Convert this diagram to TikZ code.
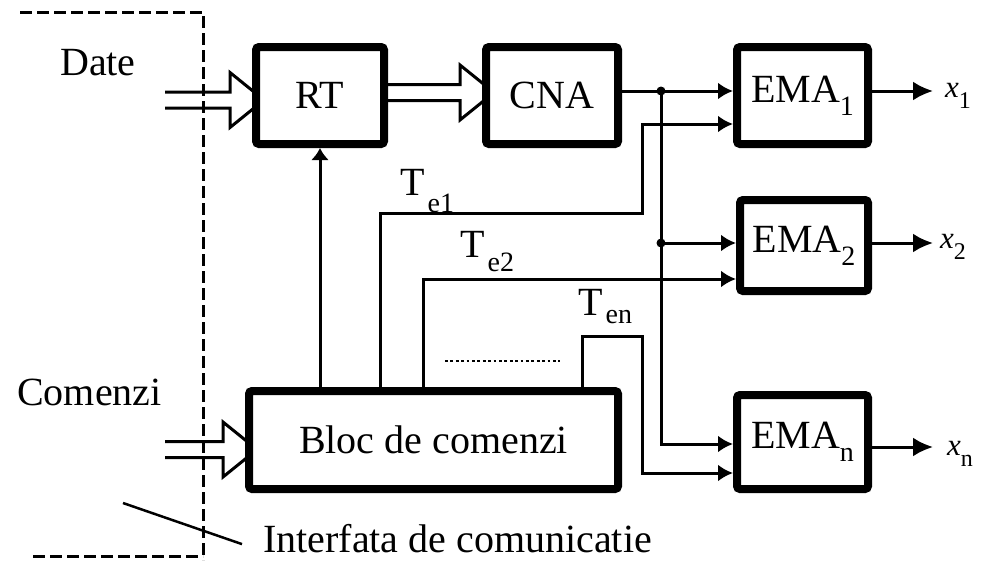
\documentclass[tikz,border=0pt]{standalone}
\usepackage{fontspec}
\setmainfont{Liberation Serif}
\usetikzlibrary{arrows.meta,calc,backgrounds}
\newcommand\sbs[1]{\raisebox{-13pt}{\fontsize{28}{28}\selectfont #1}}
\newcommand\tsb[2]{\hspace{3pt}\raisebox{#1}{\fontsize{28}{28}\selectfont #2}}
\newcommand\xsb[1]{\raisebox{-11pt}{\fontsize{24}{24}\selectfont #1}}
\newcommand\fatarr[2]{\draw[wire] ($(#1)+(0,-8)$) -- ($(#2|-#1)+(-22,-8)$) -- ($(#2|-#1)+(-22,-27.5)$) -- ($(#2|-#1)+(12,0)$) -- ($(#2|-#1)+(-22,27.5)$) -- ($(#2|-#1)+(-22,8)$) -- ($(#1)+(0,8)$);}
\begin{document}
\begin{tikzpicture}[x=1pt,y=-1pt,
  blk/.style={draw,line width=8pt,fill=white,rounded corners=3pt,inner sep=0pt,font=\fontsize{40}{44}\selectfont},
  wire/.style={line width=3pt},
  arr/.style={wire,-{Latex[length=15pt,width=17pt]}},
  outarr/.style={wire,-{Latex[length=20pt,width=19pt]}},
  lbl/.style={inner sep=0pt,font=\fontsize{40}{44}\selectfont},
  xlbl/.style={inner sep=0pt,anchor=base west,font=\fontsize{31}{31}\selectfont},
  dashbord/.style={line width=3pt,dash pattern=on 12pt off 5pt}]
\useasboundingbox (0,0) rectangle (991,560);
% blocks
\node[blk,minimum width=128pt,minimum height=97pt] (RT) at (320,95.5) {RT};
\node[blk,minimum width=132pt,minimum height=97pt] (CNA) at (552,95.5) {CNA};
\node[blk,minimum width=131pt,minimum height=97pt] (EMA1) at (802.5,95.5) {EMA\sbs{1}};
\node[blk,minimum width=128pt,minimum height=91pt] (EMA2) at (804,245.5) {EMA\sbs{2}};
\node[blk,minimum width=131pt,minimum height=94pt] (EMAn) at (802.5,442) {EMA\sbs{n}};
\node[blk,minimum width=369pt,minimum height=98pt] (Bloc) at (433.5,440) {Bloc de comenzi};
% labels
\node[lbl,anchor=base west] (date) at (60,75) {Date};
\node[lbl,anchor=base west] (com) at (17,405) {Comenzi};
\node[lbl,anchor=base west] (intf) at (263,552) {Interfata de comunicatie};
\node[lbl,anchor=base west] (te1) at (400,195) {T\tsb{-17pt}{e1}};
\node[lbl,anchor=base west] (te2) at (460,257) {T\tsb{-14pt}{e2}};
\node[lbl,anchor=base west] (ten) at (578,315) {T\tsb{-8pt}{en}};
\node[xlbl] (x1) at (945,97) {\textit{x}\xsb{1}};
\node[xlbl] (x2) at (940,248) {\textit{x}\xsb{2}};
\node[xlbl] (xn) at (947,455) {\textit{x}\xsb{n}};
% hollow bus arrows
\coordinate (dIn) at (165,100);
\coordinate (cIn) at (165,449.5);
\coordinate (rc) at (0,92.5);
\coordinate (rcs) at (RT.east|-rc);
\begin{pgfonlayer}{background}
\fatarr{dIn}{RT.west}
\fatarr{cIn}{Bloc.west}
\fatarr{rcs}{CNA.west}
\end{pgfonlayer}
% CNA distribution
\coordinate (j1) at (661,91);
\coordinate (j2) at (661,243);
\coordinate (cn) at (661,444);
\draw[arr] (CNA.east|-j1) -- (EMA1.west|-j1);
\draw[arr] (j1) -- (cn) -- (EMAn.west|-cn);
\draw[arr] (j2) -- (EMA2.west|-j2);
\fill (j1) circle[radius=4.5pt];
\fill (j2) circle[radius=4.5pt];
% command lines
\draw[wire,-{Latex[length=12pt,width=18pt]}] (Bloc.north-|RT.south) -- (RT.south);
\coordinate (t1a) at (380,213);
\coordinate (t1b) at (642,124);
\draw[arr] (Bloc.north-|t1a) |- (t1a-|t1b) |- (EMA1.west|-t1b);
\coordinate (t2) at (423,279);
\draw[arr] (Bloc.north-|t2) |- (EMA2.west|-t2);
\coordinate (tna) at (582,336);
\coordinate (tnb) at (642,473);
\draw[arr] (Bloc.north-|tna) |- (tna-|tnb) |- (EMAn.west|-tnb);
\draw[line width=2.5pt,dash pattern=on 2.7pt off 2.7pt] (445,361) -- (560,361);
% outputs
\coordinate (o1) at (933,91);
\coordinate (o2) at (933,243);
\coordinate (on) at (933,447);
\draw[outarr] (EMA1.east|-o1) -- (o1);
\draw[outarr] (EMA2.east|-o2) -- (o2);
\draw[outarr] (EMAn.east|-on) -- (on);
% interface border
\draw[dashbord] (20,12) -- (203,12) -- (203,560);
\draw[dashbord] (33,556) -- (203,556);
\coordinate (pA) at (123,503);
\draw[line width=2.5pt] (pA) -- ($(intf.west)+(-21,6)$);
\end{tikzpicture}
\end{document}
